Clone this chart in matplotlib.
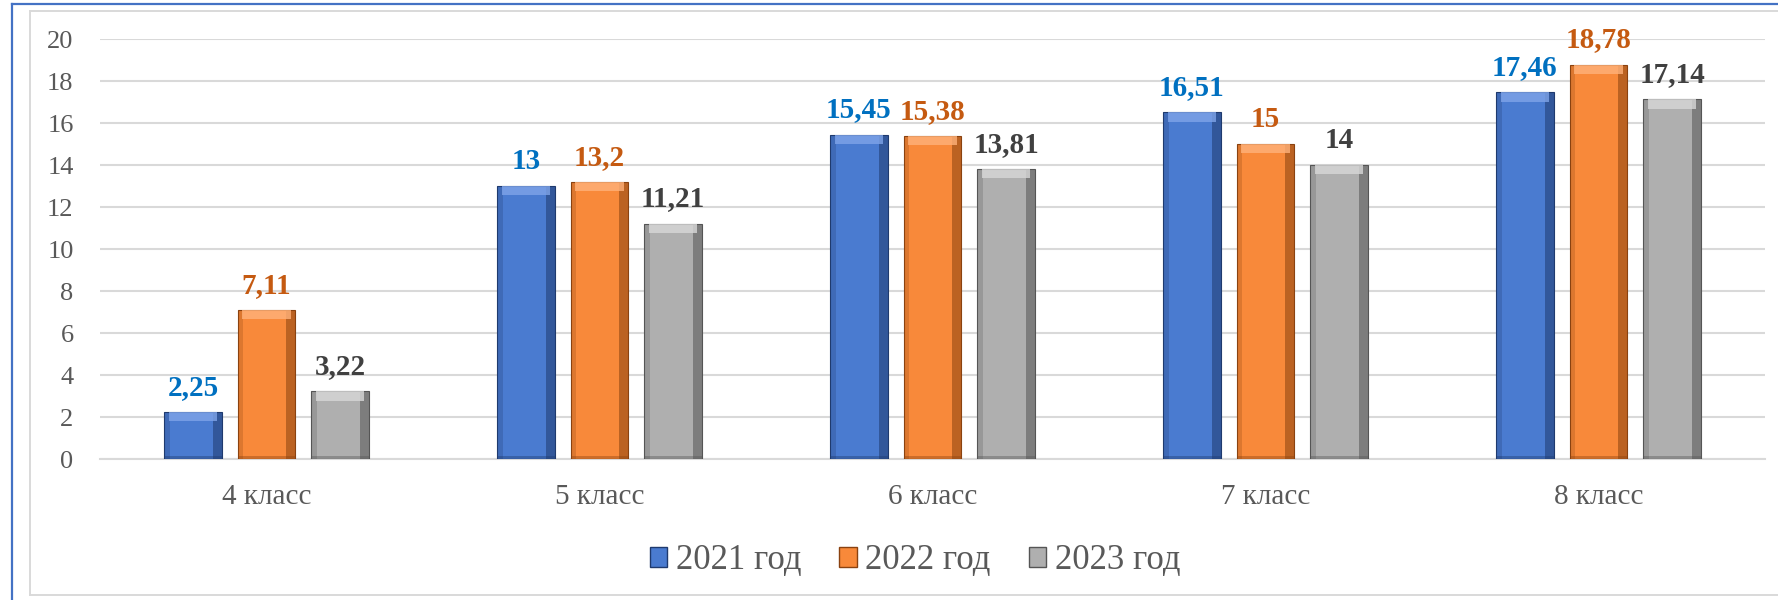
import matplotlib
matplotlib.use("Agg")
import matplotlib.pyplot as plt
from matplotlib.patches import Rectangle
from matplotlib.lines import Line2D
import numpy as np

categories = ["4 класс", "5 класс", "6 класс", "7 класс", "8 класс"]
series_names = ["2021 год", "2022 год", "2023 год"]
v2021 = [2.25, 13, 15.45, 16.51, 17.46]
v2022 = [7.11, 13.2, 15.38, 15, 18.78]
v2023 = [3.22, 11.21, 13.81, 14, 17.14]
label2021 = ["2,25", "13", "15,45", "16,51", "17,46"]
label2022 = ["7,11", "13,2", "15,38", "15", "18,78"]
label2023 = ["3,22", "11,21", "13,81", "14", "17,14"]
yticks = [0, 2, 4, 6, 8, 10, 12, 14, 16, 18, 20]

bar_colors = ["#4A7BD0", "#F8893A", "#AFAFAF"]
dark_colors = ["#1F3A6E", "#8A4210", "#555555"]
light_colors = ["#7FA4E8", "#FFB27A", "#D8D8D8"]
label_colors = ["#0070C0", "#C55A11", "#404040"]

plt.rcParams['font.family'] = ['Liberation Serif', 'DejaVu Serif']

W, H = 1778, 600
fig = plt.figure(figsize=(W / 100, H / 100), dpi=100)
fig.patch.set_facecolor("white")

# borders (outer blue, inner grey), partially cropped in reference
fig.add_artist(Line2D([12 / W, 12 / W], [0, 1 - 4 / H], color="#4472C4", lw=1.6, transform=fig.transFigure))
fig.add_artist(Line2D([12 / W, 1], [1 - 4 / H, 1 - 4 / H], color="#4472C4", lw=1.6, transform=fig.transFigure))
fig.add_artist(Line2D([30 / W, 30 / W], [1 - 595 / H, 1 - 11 / H], color="#D9D9D9", lw=1.4, transform=fig.transFigure))
fig.add_artist(Line2D([30 / W, 1], [1 - 11 / H, 1 - 11 / H], color="#D9D9D9", lw=1.4, transform=fig.transFigure))
fig.add_artist(Line2D([30 / W, 1], [1 - 595 / H, 1 - 595 / H], color="#D9D9D9", lw=1.4, transform=fig.transFigure))

ax = fig.add_axes([100 / W, 1 - 459 / H, (1765 - 100) / W, 420 / H])
ax.set_xlim(-0.5, len(categories) - 0.5)
ax.set_ylim(0, 20)

x = np.arange(len(categories))
width = 0.174
step = 0.221
all_vals = [v2021, v2022, v2023]
all_labels = [label2021, label2022, label2023]

for i, (vals, labs) in enumerate(zip(all_vals, all_labels)):
    xs = x + (i - 1) * step
    ax.bar(xs, vals, width=width, color=bar_colors[i], zorder=3,
           label=series_names[i], edgecolor=dark_colors[i], linewidth=0.8)
    # bevel: dark right edge, lighter top band
    ax.bar(xs + width * 0.42, vals, width=width * 0.16, color=dark_colors[i], alpha=0.55, zorder=4, linewidth=0)
    ax.bar(xs - width * 0.45, vals, width=width * 0.10, color=dark_colors[i], alpha=0.25, zorder=4, linewidth=0)
    top_h = 0.45
    ax.bar(xs, [top_h] * len(vals), bottom=[v - top_h for v in vals], width=width * 0.84,
           color=light_colors[i], alpha=0.8, zorder=5, linewidth=0)
    ax.bar(xs, [0.12] * len(vals), bottom=[0] * len(vals), width=width,
           color=dark_colors[i], alpha=0.4, zorder=5, linewidth=0)
    for xi, v, lab in zip(xs, vals, labs):
        ax.annotate(lab, (xi, v), xytext=(0, 8), textcoords="offset points",
                    ha="center", va="bottom", fontsize=21, fontweight="bold",
                    color=label_colors[i], zorder=6)

ax.set_yticks(yticks)
ax.set_yticklabels([str(t) for t in yticks])
ax.set_xticks(x)
ax.set_xticklabels(categories)
ax.tick_params(axis="y", length=0, pad=19, labelsize=19, labelcolor="#595959")
ax.tick_params(axis="x", length=0, pad=18, labelsize=21, labelcolor="#595959")
ax.grid(axis="y", color="#D9D9D9", linewidth=1.5, zorder=0)
ax.set_axisbelow(True)
for s in ["top", "right", "left"]:
    ax.spines[s].set_visible(False)
ax.spines["bottom"].set_color("#D9D9D9")
ax.spines["bottom"].set_linewidth(1.5)

handles = [Rectangle((0, 0), 1, 1, facecolor=bar_colors[i], edgecolor=dark_colors[i], linewidth=1.0)
           for i in range(3)]
leg = fig.legend(handles, series_names, loc="center", bbox_to_anchor=(915 / W, 1 - 561 / H),
                 ncol=3, frameon=False, fontsize=25, handlelength=0.5, handleheight=0.5,
                 handletextpad=0.25, columnspacing=1.1)
for t in leg.get_texts():
    t.set_color("#595959")

fig.savefig("out.png", dpi=100, facecolor="white")
